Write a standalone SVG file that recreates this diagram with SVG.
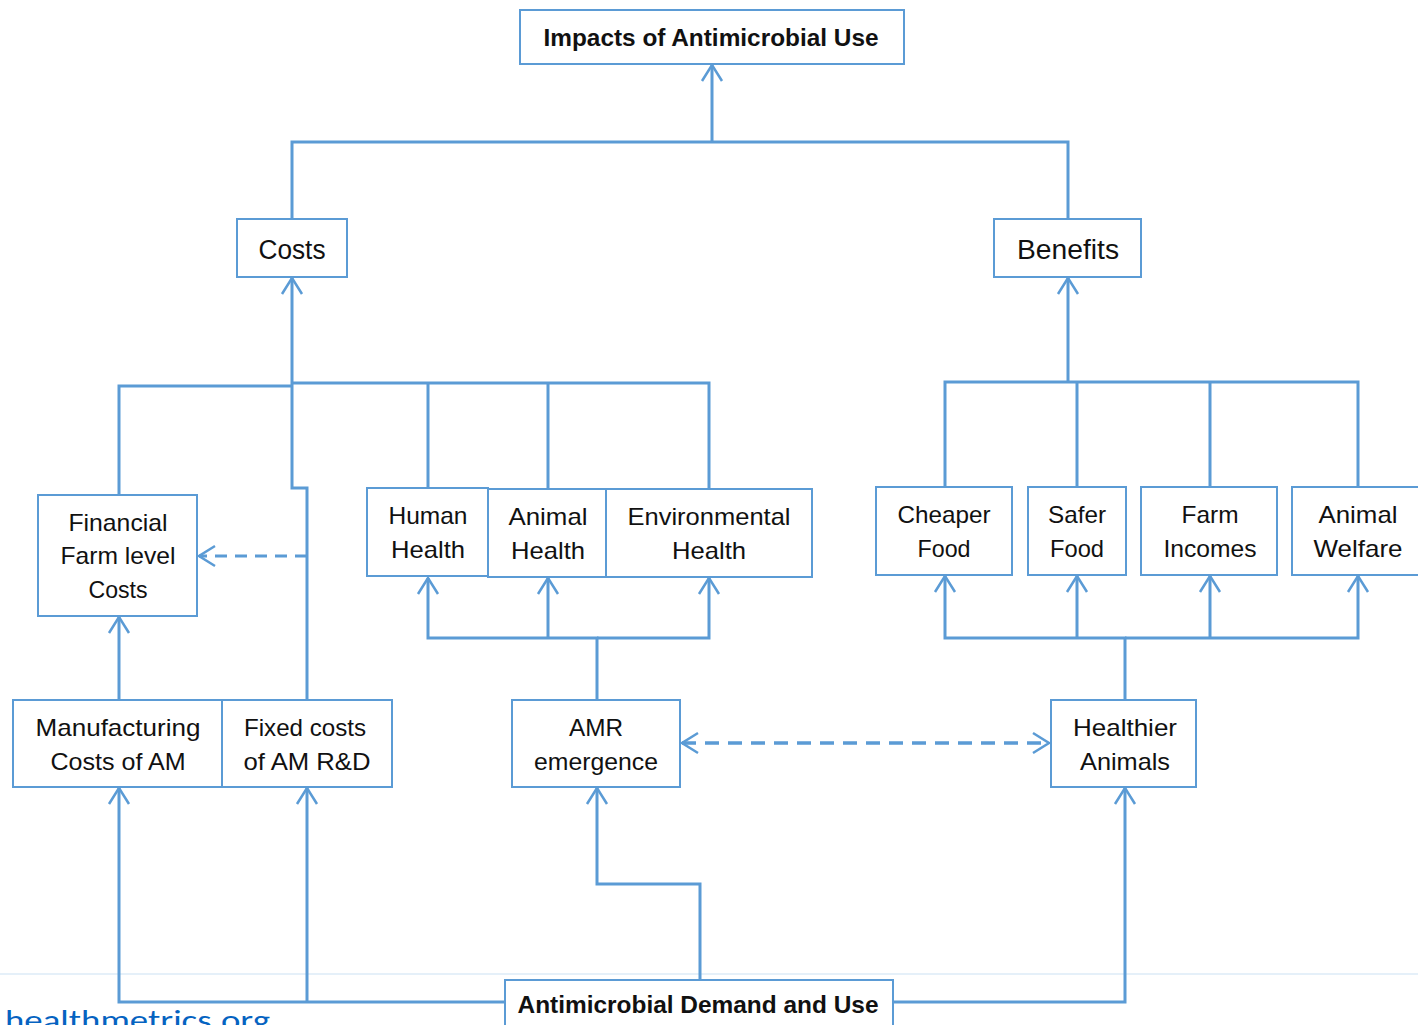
<svg xmlns="http://www.w3.org/2000/svg" width="1418" height="1025" viewBox="0 0 1418 1025">
<defs>
<style>
.box{fill:#fff;stroke:#5B9BD5;stroke-width:2}
.t{font-family:"Liberation Sans",Arial,sans-serif;font-size:24px;fill:#111;text-anchor:middle}
.b{font-weight:bold;font-size:24px}
.big{font-size:27px}
.c{fill:none;stroke:#5B9BD5;stroke-width:3}
.d{fill:none;stroke:#5B9BD5;stroke-width:3;stroke-dasharray:12 8}
.d2{fill:none;stroke:#5B9BD5;stroke-width:3.5;stroke-dasharray:14 9}
</style>
<marker id="arr" viewBox="0 0 20 24" refX="18" refY="12" markerWidth="20" markerHeight="24" markerUnits="userSpaceOnUse" orient="auto-start-reverse">
<path d="M2,2 L18,12 L2,22" fill="none" stroke="#5B9BD5" stroke-width="2.5"/>
</marker>
</defs>
<rect width="1418" height="1025" fill="#fff"/>
<line x1="0" y1="974" x2="1418" y2="974" stroke="#DDEBF7" stroke-width="1.5"/>
<text x="5" y="1030" font-family="Calibri,'Liberation Sans',sans-serif" font-size="29" fill="#0563C1" textLength="265" lengthAdjust="spacingAndGlyphs">healthmetrics.org</text>

<g id="connectors">
<path class="c" d="M292,219 V142 H1068 V219"/>
<path class="c" d="M712,142 V65" marker-end="url(#arr)"/>
<path class="c" d="M292,383 V278" marker-end="url(#arr)"/>
<path class="c" d="M119,495 V386 H292"/>
<path class="c" d="M292,383 H709 V489 M428,383 V488 M548,383 V489"/>
<path class="c" d="M292,383 V488 H307 V700"/>
<path class="d" d="M307,556 H199" marker-end="url(#arr)"/>
<path class="c" d="M1068,382 V278" marker-end="url(#arr)"/>
<path class="c" d="M945,487 V382 H1358 V487 M1077,382 V487 M1210,382 V487"/>
<path class="c" d="M597,700 V638 H428 V578" marker-end="url(#arr)"/>
<path class="c" d="M548,638 V578" marker-end="url(#arr)"/>
<path class="c" d="M597,638 H709 V578" marker-end="url(#arr)"/>
<path class="c" d="M1125,700 V638 H945 V576" marker-end="url(#arr)"/>
<path class="c" d="M1077,638 V576" marker-end="url(#arr)"/>
<path class="c" d="M1210,638 V576" marker-end="url(#arr)"/>
<path class="c" d="M1125,638 H1358 V576" marker-end="url(#arr)"/>
<path class="c" d="M119,700 V617" marker-end="url(#arr)"/>
<path class="d2" d="M682,743 H1049" marker-start="url(#arr)" marker-end="url(#arr)"/>
<path class="c" d="M505,1002 H119 V788" marker-end="url(#arr)"/>
<path class="c" d="M307,1002 V788" marker-end="url(#arr)"/>
<path class="c" d="M893,1002 H1125 V788" marker-end="url(#arr)"/>
<path class="c" d="M700,980 V884 H597 V788" marker-end="url(#arr)"/>
</g>

<g id="impacts"><rect class="box" x="520" y="10" width="384" height="54"/><text class="t b" x="711" y="46" textLength="335" lengthAdjust="spacingAndGlyphs">Impacts of Antimicrobial Use</text></g>
<g id="costs"><rect class="box" x="237" y="219" width="110" height="58"/><text class="t big" x="292" y="259" textLength="67" lengthAdjust="spacingAndGlyphs">Costs</text></g>
<g id="benefits"><rect class="box" x="994" y="219" width="147" height="58"/><text class="t big" x="1068" y="259" textLength="102" lengthAdjust="spacingAndGlyphs">Benefits</text></g>
<g id="financial"><rect class="box" x="38" y="495" width="159" height="121"/>
<text class="t" x="118" y="531" textLength="99" lengthAdjust="spacingAndGlyphs">Financial</text>
<text class="t" x="118" y="564" textLength="115" lengthAdjust="spacingAndGlyphs">Farm level</text>
<text class="t" x="118" y="598" textLength="59" lengthAdjust="spacingAndGlyphs">Costs</text></g>
<g id="human"><rect class="box" x="367" y="488" width="121" height="88"/>
<text class="t" x="428" y="524" textLength="79" lengthAdjust="spacingAndGlyphs">Human</text>
<text class="t" x="428" y="558" textLength="74" lengthAdjust="spacingAndGlyphs">Health</text></g>
<g id="animalhealth"><rect class="box" x="488" y="489" width="118" height="88"/>
<text class="t" x="548" y="525" textLength="79" lengthAdjust="spacingAndGlyphs">Animal</text>
<text class="t" x="548" y="559" textLength="74" lengthAdjust="spacingAndGlyphs">Health</text></g>
<g id="environmental"><rect class="box" x="606" y="489" width="206" height="88"/>
<text class="t" x="709" y="525" textLength="163" lengthAdjust="spacingAndGlyphs">Environmental</text>
<text class="t" x="709" y="559" textLength="74" lengthAdjust="spacingAndGlyphs">Health</text></g>
<g id="cheaper"><rect class="box" x="876" y="487" width="136" height="88"/>
<text class="t" x="944" y="523" textLength="93" lengthAdjust="spacingAndGlyphs">Cheaper</text>
<text class="t" x="944" y="557" textLength="53" lengthAdjust="spacingAndGlyphs">Food</text></g>
<g id="safer"><rect class="box" x="1028" y="487" width="98" height="88"/>
<text class="t" x="1077" y="523" textLength="58" lengthAdjust="spacingAndGlyphs">Safer</text>
<text class="t" x="1077" y="557" textLength="54" lengthAdjust="spacingAndGlyphs">Food</text></g>
<g id="incomes"><rect class="box" x="1141" y="487" width="136" height="88"/>
<text class="t" x="1210" y="523" textLength="57" lengthAdjust="spacingAndGlyphs">Farm</text>
<text class="t" x="1210" y="557" textLength="93" lengthAdjust="spacingAndGlyphs">Incomes</text></g>
<g id="welfare"><rect class="box" x="1292" y="487" width="140" height="88"/>
<text class="t" x="1358" y="523" textLength="79" lengthAdjust="spacingAndGlyphs">Animal</text>
<text class="t" x="1358" y="557" textLength="89" lengthAdjust="spacingAndGlyphs">Welfare</text></g>
<g id="manufacturing"><rect class="box" x="13" y="700" width="209" height="87"/>
<text class="t" x="118" y="736" textLength="165" lengthAdjust="spacingAndGlyphs">Manufacturing</text>
<text class="t" x="118" y="770" textLength="135" lengthAdjust="spacingAndGlyphs">Costs of AM</text></g>
<g id="fixed"><rect class="box" x="222" y="700" width="170" height="87"/>
<text class="t" x="305" y="736" textLength="122" lengthAdjust="spacingAndGlyphs">Fixed costs</text>
<text class="t" x="307" y="770" textLength="127" lengthAdjust="spacingAndGlyphs">of AM R&amp;D</text></g>
<g id="amr"><rect class="box" x="512" y="700" width="168" height="87"/>
<text class="t" x="596" y="736" textLength="54" lengthAdjust="spacingAndGlyphs">AMR</text>
<text class="t" x="596" y="770" textLength="124" lengthAdjust="spacingAndGlyphs">emergence</text></g>
<g id="healthier"><rect class="box" x="1051" y="700" width="145" height="87"/>
<text class="t" x="1125" y="736" textLength="104" lengthAdjust="spacingAndGlyphs">Healthier</text>
<text class="t" x="1125" y="770" textLength="90" lengthAdjust="spacingAndGlyphs">Animals</text></g>
<g id="demand"><rect class="box" x="505" y="980" width="388" height="60"/>
<text class="t b" x="698" y="1013" textLength="361" lengthAdjust="spacingAndGlyphs">Antimicrobial Demand and Use</text></g>
</svg>
